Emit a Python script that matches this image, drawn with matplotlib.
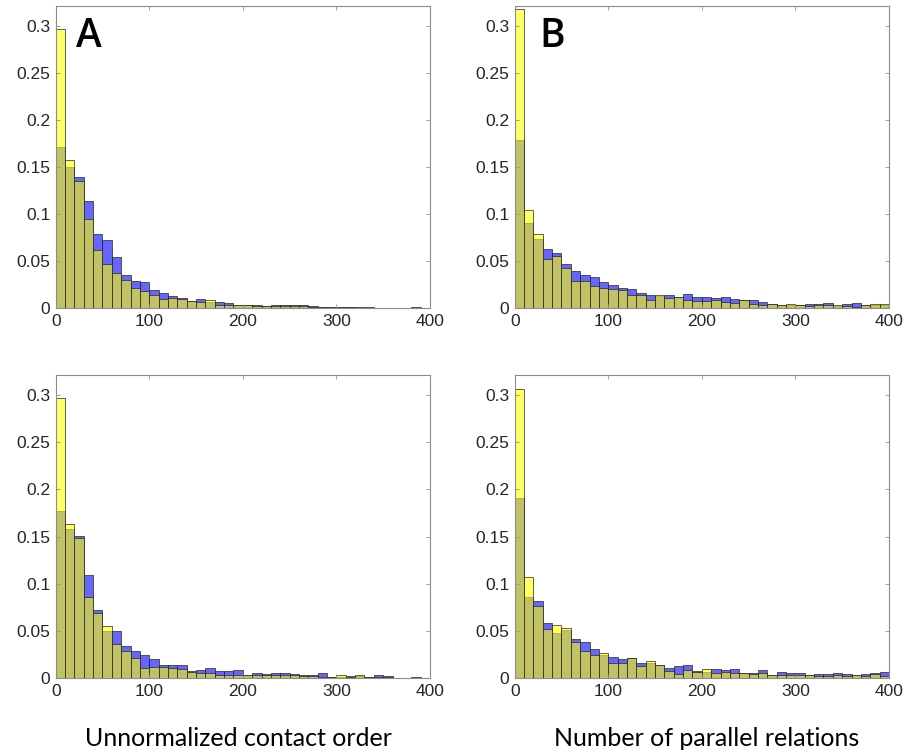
import numpy as np
import matplotlib
matplotlib.use("Agg")
import matplotlib.pyplot as plt

bin_edges = np.arange(0, 410, 10)

a_yellow = [0.297, 0.157, 0.135, 0.095, 0.062, 0.047, 0.037, 0.030, 0.022, 0.018,
            0.014, 0.010, 0.011, 0.010, 0.008, 0.007, 0.0092, 0.004, 0.004, 0.0035,
            0.003, 0.0025, 0.0025, 0.0025, 0.002, 0.002, 0.002, 0.001, 0.0015, 0.0015,
            0.0012, 0.001, 0.0008, 0.0008, 0.0005, 0.0005, 0.0004, 0.0004, 0.0003, 0.0003]
a_blue = [0.171, 0.150, 0.139, 0.114, 0.079, 0.073, 0.054, 0.035, 0.029, 0.028,
          0.019, 0.016, 0.013, 0.0106, 0.008, 0.0096, 0.007, 0.0067, 0.0053, 0.0035,
          0.003, 0.004, 0.0025, 0.003, 0.003, 0.003, 0.003, 0.0025, 0.001, 0.0015,
          0.0012, 0.0012, 0.0018, 0.0012, 0.0008, 0.0005, 0.0004, 0.0003, 0.0015, 0.0003]

b_yellow = [0.318, 0.1045, 0.0786, 0.052, 0.0556, 0.0425, 0.029, 0.029, 0.0237, 0.022,
            0.020, 0.0195, 0.0142, 0.0138, 0.0089, 0.014, 0.0113, 0.012, 0.0092, 0.0081,
            0.0078, 0.0089, 0.0067, 0.0053, 0.0089, 0.0046, 0.004, 0.0046, 0.004, 0.0042,
            0.004, 0.0025, 0.003, 0.003, 0.003, 0.0025, 0.0018, 0.004, 0.0048, 0.0046]
b_blue = [0.179, 0.091, 0.0733, 0.0627, 0.059, 0.0468, 0.0397, 0.0354, 0.033, 0.0283,
          0.0248, 0.0213, 0.0205, 0.0166, 0.0138, 0.0135, 0.0138, 0.012, 0.015, 0.012,
          0.012, 0.0106, 0.0124, 0.0099, 0.0085, 0.0089, 0.0064, 0.0042, 0.0035, 0.0035,
          0.0038, 0.0046, 0.0046, 0.0053, 0.0028, 0.0046, 0.0053, 0.0035, 0.003, 0.0035]

c_yellow = [0.297, 0.163, 0.149, 0.086, 0.0686, 0.055, 0.0363, 0.029, 0.0213, 0.0107,
            0.0124, 0.0117, 0.0107, 0.010, 0.0064, 0.006, 0.006, 0.004, 0.004, 0.0036,
            0.004, 0.0036, 0.0032, 0.0035, 0.0032, 0.003, 0.0025, 0.0025, 0.0018, 0.0014,
            0.003, 0.0014, 0.0032, 0.0014, 0.0014, 0.0014, 0.0007, 0.0007, 0.0005, 0.0007]
c_blue = [0.177, 0.1575, 0.151, 0.109, 0.072, 0.050, 0.0505, 0.0345, 0.029, 0.0249,
          0.0206, 0.0142, 0.0142, 0.0142, 0.0078, 0.0089, 0.0114, 0.0078, 0.0078, 0.0085,
          0.004, 0.006, 0.0043, 0.0053, 0.0053, 0.0046, 0.003, 0.003, 0.0053, 0.0014,
          0.0018, 0.0025, 0.002, 0.0014, 0.0036, 0.0025, 0.0007, 0.0007, 0.0014, 0.0005]

d_yellow = [0.306, 0.107, 0.0764, 0.0525, 0.056, 0.0535, 0.0387, 0.0289, 0.0246, 0.027,
            0.0158, 0.0158, 0.0218, 0.0134, 0.018, 0.0137, 0.0077, 0.0046, 0.0088, 0.0063,
            0.0095, 0.006, 0.0063, 0.0053, 0.0053, 0.0046, 0.0053, 0.0035, 0.0038, 0.0035,
            0.0032, 0.0035, 0.0028, 0.0028, 0.0032, 0.0028, 0.0035, 0.002, 0.0046, 0.0028]
d_blue = [0.191, 0.086, 0.082, 0.059, 0.048, 0.051, 0.042, 0.0387, 0.031, 0.0246,
          0.0229, 0.0204, 0.021, 0.0158, 0.0158, 0.0137, 0.0106, 0.0127, 0.0137, 0.008,
          0.007, 0.0099, 0.0088, 0.0099, 0.0053, 0.006, 0.0088, 0.0035, 0.007, 0.006,
          0.006, 0.0035, 0.0042, 0.0042, 0.0053, 0.0046, 0.0032, 0.0042, 0.006, 0.0063]

panel_letters = ["A", "B", "", ""]
x_labels = ["Unnormalized contact order", "Number of parallel relations"]
yticks = [0, 0.05, 0.1, 0.15, 0.2, 0.25, 0.3]
ytick_labels = ["0", "0.05", "0.1", "0.15", "0.2", "0.25", "0.3"]
xticks = [0, 100, 200, 300, 400]

W, H = 910, 755
fig = plt.figure(figsize=(W / 100, H / 100), dpi=100)

def px_axes(left, right, top, bottom):
    return fig.add_axes([left / W, 1 - bottom / H, (right - left) / W, (bottom - top) / H])

boxes = [(55.7, 430, 6, 308.3), (514.7, 889, 6, 308.3),
         (55.7, 430, 375, 678.3), (514.7, 889, 375, 678.3)]
data = [(a_yellow, a_blue), (b_yellow, b_blue), (c_yellow, c_blue), (d_yellow, d_blue)]

blue_face = (0, 0, 1, 0.6)
yellow_face = (1, 1, 0, 0.6)
edge = (0.15, 0.15, 0.15)
tick_font = "Liberation Sans"

for i, (box, (yel, blu)) in enumerate(zip(boxes, data)):
    ax = px_axes(*box)
    ax.bar(bin_edges[:-1], blu, width=10, align="edge", facecolor=blue_face,
           edgecolor=edge, linewidth=0.5)
    ax.bar(bin_edges[:-1], yel, width=10, align="edge", facecolor=yellow_face,
           edgecolor=edge, linewidth=0.5)
    ax.set_xlim(0, 400)
    ax.set_ylim(0, 0.321)
    ax.set_yticks(yticks)
    ax.set_yticklabels(ytick_labels, fontsize=12.5, family=tick_font, color="#262626")
    ax.set_xticks(xticks)
    ax.set_xticklabels([str(t) for t in xticks], fontsize=12.5, family=tick_font, color="#262626")
    ax.tick_params(direction="in", length=3, width=0.6, color="#909090",
                   top=True, right=True, pad=4)
    for s in ax.spines.values():
        s.set_color("#8c8c8c")
        s.set_linewidth(0.8)
    if panel_letters[i]:
        xpos = 22 if i == 0 else 26
        ax.text(xpos, 0.277, panel_letters[i], fontsize=28, family="Open Sans",
                weight="semibold", color="black", ha="left", va="baseline")

fig.text(238 / W, 1 - 738 / H, x_labels[0], fontsize=18, family="Lato",
         ha="center", va="center", color="black")
fig.text(707 / W, 1 - 738 / H, x_labels[1], fontsize=18, family="Lato",
         ha="center", va="center", color="black")

fig.savefig("out.png", dpi=100)
